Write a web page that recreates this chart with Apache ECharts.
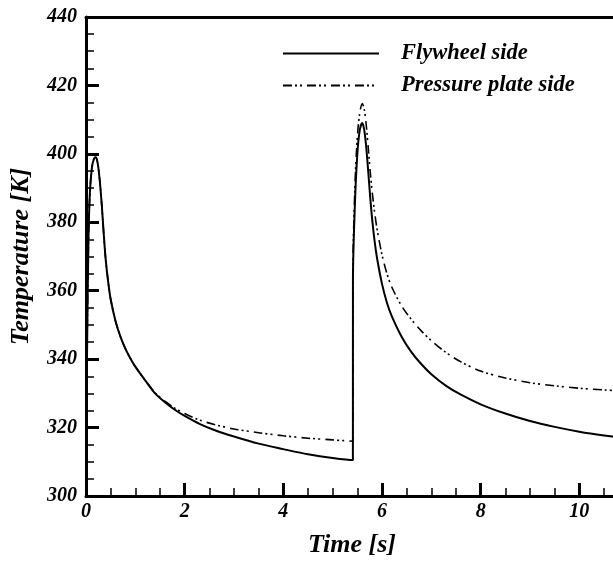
<!DOCTYPE html>
<html>
<head>
<meta charset="utf-8">
<script src="https://cdn.jsdelivr.net/npm/echarts@6/dist/echarts.min.js"></script>
<style>
html,body{margin:0;padding:0;background:#fff;overflow:hidden;width:613px;height:563px;}
#chart{width:690px;height:563px;}
</style>
</head>
<body>
<div id="chart"></div>
<script>
// Time [s]
var time = [0, 0.02, 0.05, 0.08, 0.12, 0.16, 0.2, 0.24, 0.28, 0.32, 0.36, 0.4, 0.45, 0.5, 0.6, 0.7, 0.8, 0.9, 1.0, 1.2, 1.4, 1.6, 1.8, 2.0, 2.3, 2.6, 3.0, 3.5, 4.0, 4.5, 5.0, 5.41, 5.411, 5.45, 5.5, 5.55, 5.6, 5.64, 5.68, 5.72, 5.76, 5.8, 5.85, 5.9, 6.0, 6.1, 6.2, 6.4, 6.6, 6.8, 7.0, 7.3, 7.6, 8.0, 8.5, 9.0, 9.5, 10.0, 10.5, 11.0];
// Temperature [K] - Flywheel side
var flywheel = [300, 340, 375, 389, 396, 398.5, 399, 397, 392, 385, 376.5, 369, 362.5, 357.5, 351, 346.5, 343, 340.2, 337.8, 333.8, 330.0, 327.4, 325.2, 323.4, 321.1, 319.3, 317.4, 315.3, 313.7, 312.2, 311.1, 310.5, 363, 385, 400, 407, 409, 407, 402, 395, 387.5, 381, 374.5, 369.5, 362, 356.5, 352.5, 346.5, 342, 338.5, 335.6, 332.2, 329.6, 326.8, 324.1, 321.9, 320.2, 318.8, 317.7, 316.8];
// Temperature [K] - Pressure plate side
var pressure = [300, 340, 375, 389, 396, 398.5, 399, 397, 392, 385, 376.5, 369, 362.5, 357.5, 351, 346.5, 343, 340.2, 337.8, 333.8, 330.2, 327.7, 325.7, 324.1, 322.2, 320.9, 319.6, 318.5, 317.6, 316.9, 316.4, 316.0, 365, 390, 405, 412, 414.7, 413, 408.5, 402, 395, 389, 383, 378, 370.5, 365, 361, 355.5, 351.5, 348.2, 345.4, 341.9, 339.2, 336.5, 334.5, 333.1, 332.2, 331.5, 331.0, 330.6];
var seriesNames = ['Flywheel side', 'Pressure plate side'];
var xAxisTitle = 'Time [s]';
var yAxisTitle = 'Temperature [K]';

function pairs(xs, ys) { return xs.map(function (x, i) { return [x, ys[i]]; }); }

var FONT = "'Liberation Serif', 'Times New Roman', serif";
var chart = echarts.init(document.getElementById('chart'));
chart.setOption({
  animation: false,
  backgroundColor: '#fff',
  grid: { left: 84, top: 17, right: 12, bottom: 61, containLabel: false },
  legend: {
    orient: 'vertical',
    left: 282,
    top: 42,
    padding: 0,
    itemWidth: 96,
    itemHeight: 14,
    itemGap: 9,
    data: seriesNames,
    itemStyle: { opacity: 0 },
    textStyle: {
      fontFamily: FONT, fontSize: 22.5, fontWeight: 'bold', fontStyle: 'italic',
      color: '#000', lineHeight: 22, padding: [0, 0, 0, 17]
    }
  },
  xAxis: [{
    type: 'value', min: 0, max: 12, interval: 2,
    name: xAxisTitle, nameLocation: 'middle', nameGap: 36,
    nameTextStyle: { fontFamily: FONT, fontSize: 26, fontWeight: 'bold', fontStyle: 'italic', color: '#000', padding: [0, 60, 0, 0] },
    axisLine: { show: true, onZero: false, lineStyle: { color: '#000', width: 3 } },
    axisTick: { show: true, inside: true, length: 13, lineStyle: { color: '#000', width: 3 } },
    minorTick: { show: true, splitNumber: 4, length: 8, lineStyle: { color: '#000', width: 1.5 } },
    axisLabel: { margin: 6, showMaxLabel: false, fontFamily: FONT, fontSize: 20, fontWeight: 'bold', fontStyle: 'italic', color: '#000' },
    splitLine: { show: false }
  }, {
    type: 'value', min: 0, max: 12, position: 'top',
    axisLine: { show: true, onZero: false, lineStyle: { color: '#000', width: 3 } },
    axisTick: { show: false }, axisLabel: { show: false }, splitLine: { show: false }
  }],
  yAxis: {
    type: 'value', min: 300, max: 440, interval: 20,
    name: yAxisTitle, nameLocation: 'middle', nameGap: 52,
    nameTextStyle: { fontFamily: FONT, fontSize: 26, fontWeight: 'bold', fontStyle: 'italic', color: '#000' },
    axisLine: { show: true, onZero: false, lineStyle: { color: '#000', width: 3 } },
    axisTick: { show: true, inside: true, length: 13, lineStyle: { color: '#000', width: 3 } },
    minorTick: { show: true, splitNumber: 4, length: 8, lineStyle: { color: '#000', width: 1.5 } },
    axisLabel: { margin: 9, fontFamily: FONT, fontSize: 20, fontWeight: 'bold', fontStyle: 'italic', color: '#000' },
    splitLine: { show: false }
  },
  series: [{
    name: seriesNames[0], type: 'line', xAxisIndex: 0,
    data: pairs(time, flywheel),
    showSymbol: false, symbol: 'none',
    smooth: 0.3,
    lineStyle: { color: '#000', width: 2, type: 'solid' },
    itemStyle: { color: '#000' }
  }, {
    name: seriesNames[1], type: 'line', xAxisIndex: 0,
    data: pairs(time, pressure),
    showSymbol: false, symbol: 'none',
    smooth: 0.3,
    lineStyle: { color: '#000', width: 1.6, type: [9, 3, 2, 3, 2, 5] },
    itemStyle: { color: '#000' }
  }]
});
</script>
</body>
</html>
